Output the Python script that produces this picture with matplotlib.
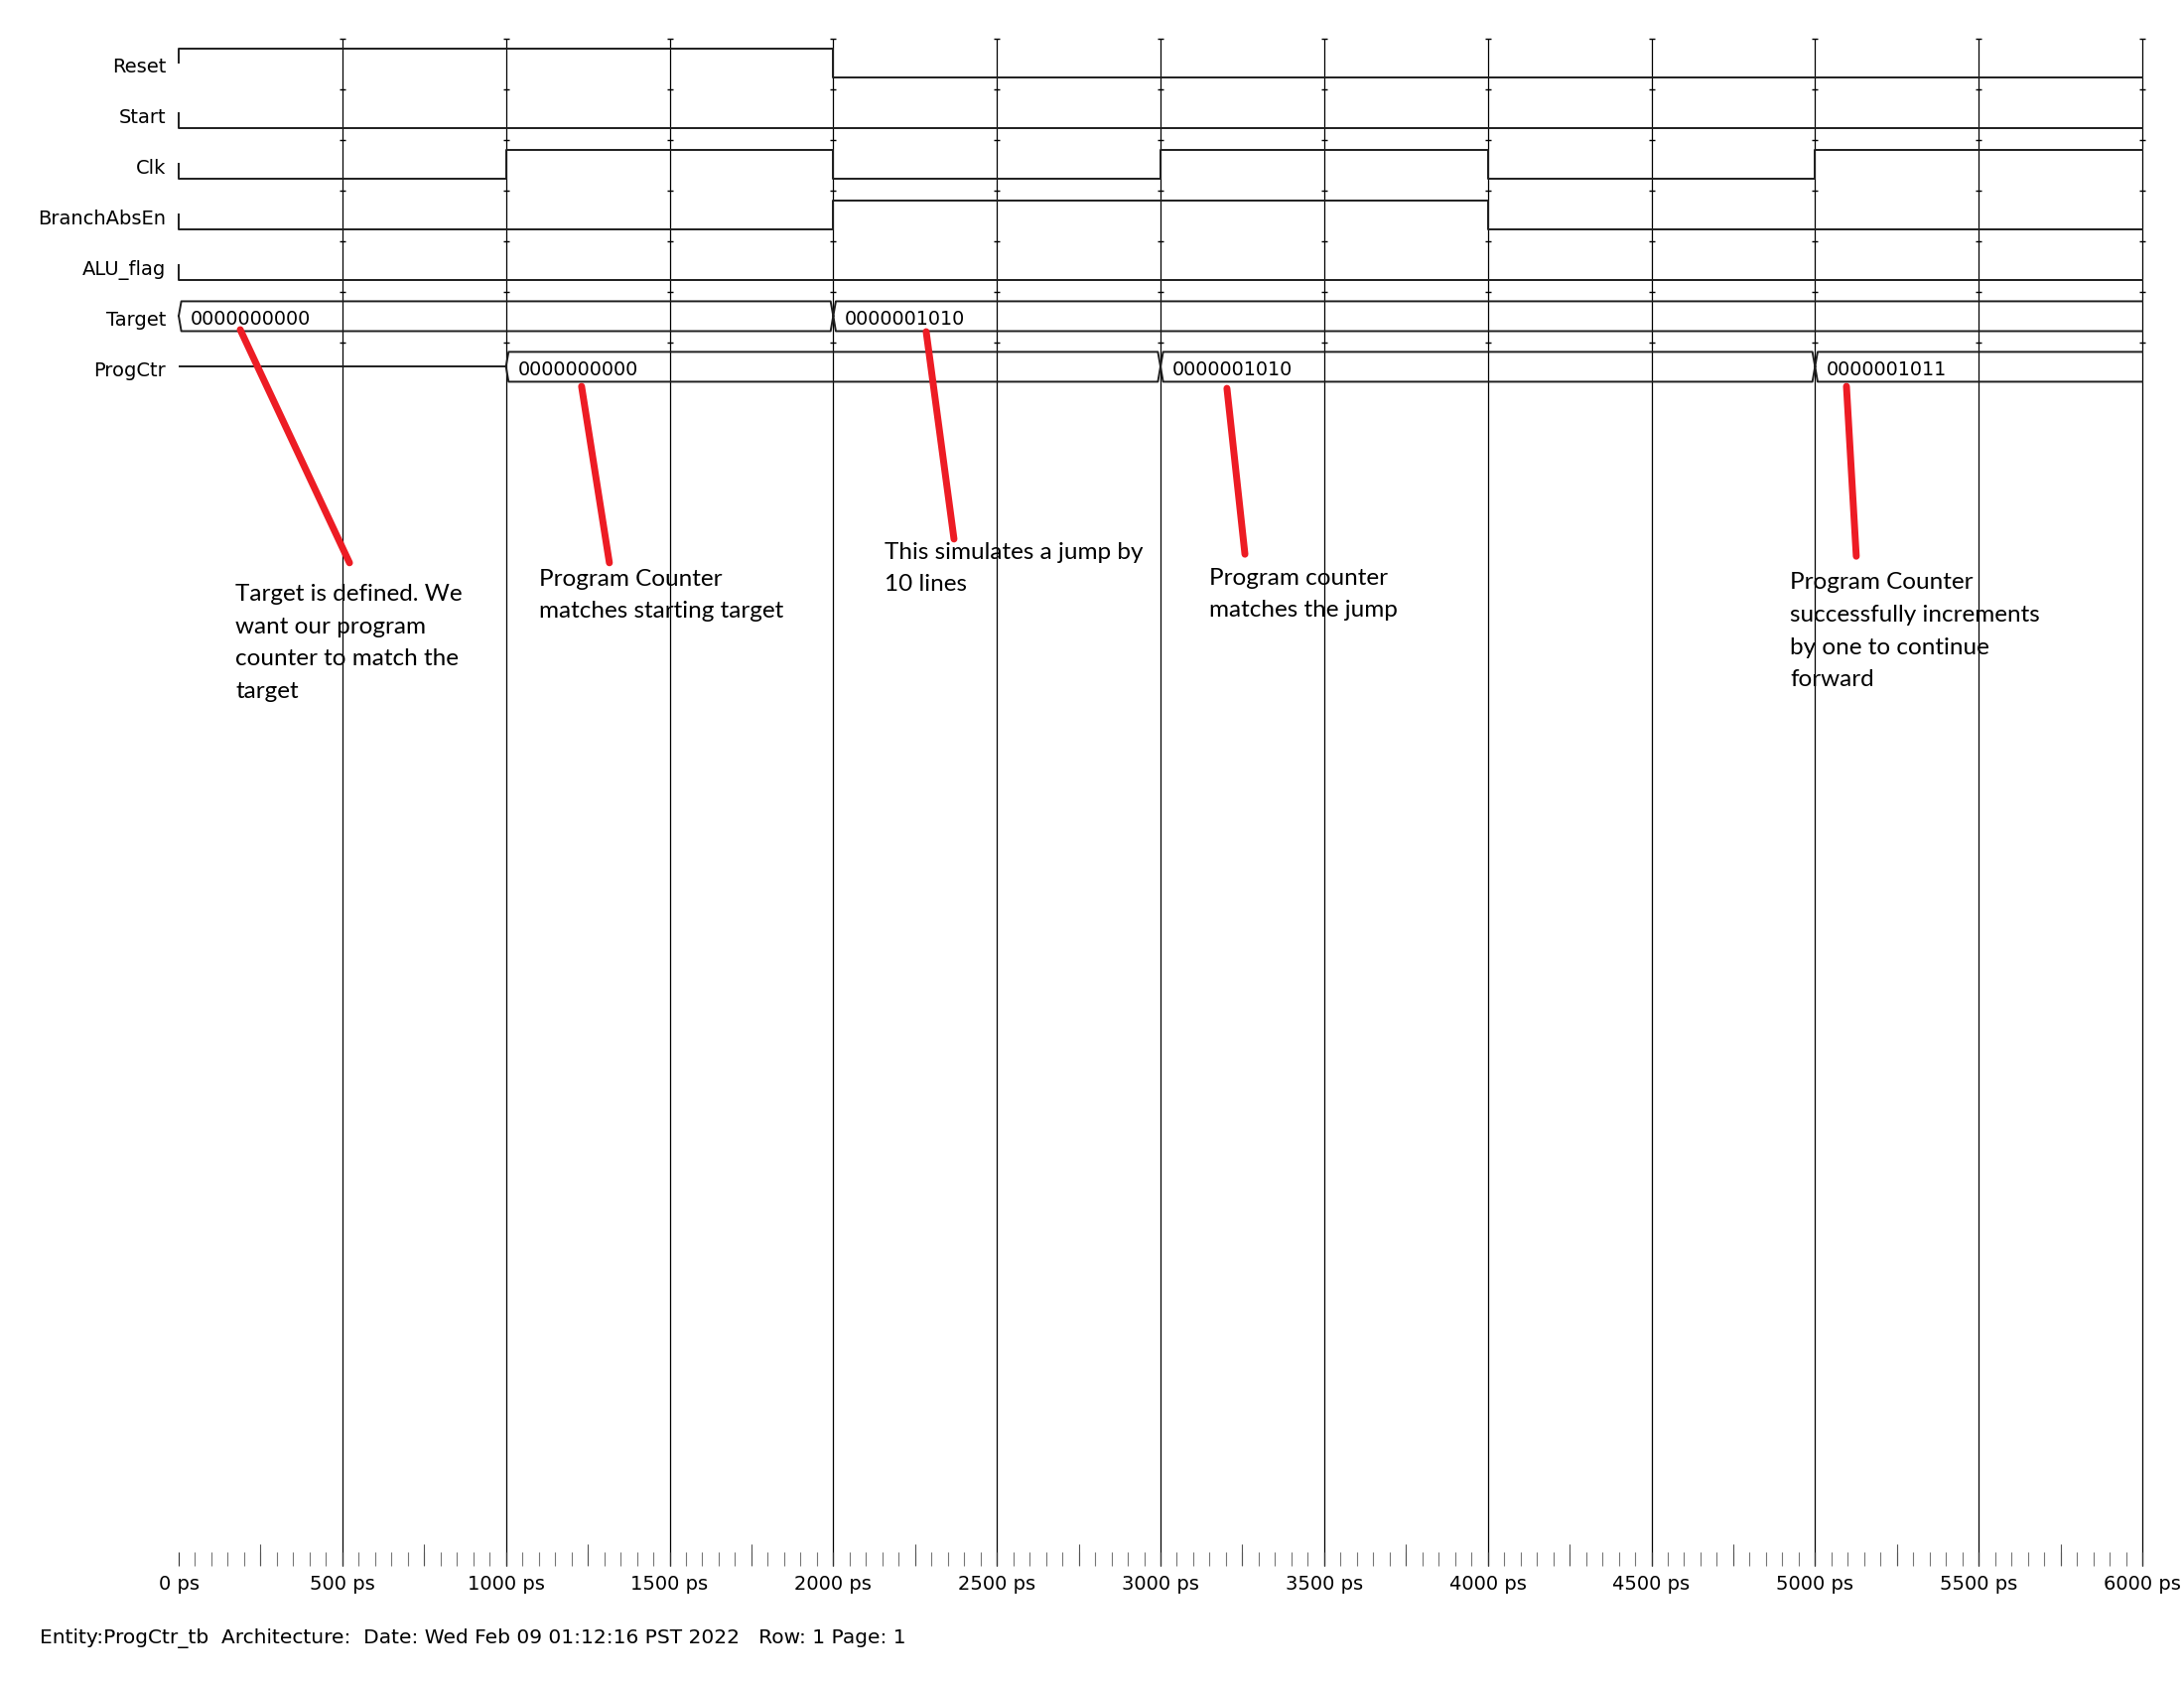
import numpy as np
import matplotlib.pyplot as plt

plt.rcParams['font.family'] = ['DejaVu Sans']

# signal list (top to bottom)
signal_names = ['Reset', 'Start', 'Clk', 'BranchAbsEn', 'ALU_flag', 'Target', 'ProgCtr']

# single-bit signals: edge times (ps) and level held after each edge
reset_t = [0, 2000, 6000]
reset_v = [1, 0]
start_t = [0, 6000]
start_v = [0]
clk_t = [0, 1000, 2000, 3000, 4000, 5000, 6000]
clk_v = [0, 1, 0, 1, 0, 1]
branch_t = [0, 2000, 4000, 6000]
branch_v = [0, 1, 0]
alu_t = [0, 6000]
alu_v = [0]

# bus signals (None = undefined, drawn as a mid line)
target_t = [0, 2000, 6000]
target_v = ['0000000000', '0000001010']
progctr_t = [0, 1000, 3000, 5000, 6000]
progctr_v = [None, '0000000000', '0000001010', '0000001011']

# time axis
t_end = 6000
major_ticks = np.arange(0, 6001, 500)
mid_ticks = np.arange(250, 6000, 500)
minor_ticks = np.arange(0, 6001, 50)

# notes: text, first-line baseline (ps, row), red pointer line (ps, row)
notes = [
    'Target is defined. We\nwant our program\ncounter to match the\ntarget',
    'Program Counter\nmatches starting target',
    'This simulates a jump by\n10 lines',
    'Program counter\nmatches the jump',
    'Program Counter\nsuccessfully increments\nby one to continue\nforward',
]
note_x = [173, 1101, 2157, 3149, 4923]
note_y = [11.09, 10.80, 10.27, 10.78, 10.86]
ptr_x0 = [188, 1231, 2284, 3203, 5096]
ptr_y0 = [5.75, 6.87, 5.79, 6.91, 6.87]
ptr_x1 = [522, 1316, 2369, 3258, 5126]
ptr_y1 = [10.36, 10.36, 9.89, 10.19, 10.23]

footer = 'Entity:ProgCtr_tb  Architecture:  Date: Wed Feb 09 01:12:16 PST 2022   Row: 1 Page: 1'

# ---- layout (pixels of a 2200x1700 canvas)
W, H = 2200, 1700
row_px = 50.95
top_px, base_px = 39, 1577
x0_px, x1_px = 180, 2158
n_rows = (base_px - top_px) / row_px
note_line_px = 33

HI, LO, MID = 0.19, 0.76, 0.48
wave_col = '#1e1e1e'
wave_lw = 1.4

fig = plt.figure(figsize=(W / 100, H / 100), dpi=100)
ax = fig.add_axes([x0_px / W, 1 - base_px / H, (x1_px - x0_px) / W, (base_px - top_px) / H])
ax.set_xlim(0, t_end)
ax.set_ylim(n_rows, 0)
for s in ax.spines.values():
    s.set_visible(False)
ax.set_yticks([])

# grid lines every 500 ps with little marks at row borders
ax.vlines(major_ticks[1:], 0, n_rows, color='black', lw=0.9, zorder=1, clip_on=False)
gx, gy = np.meshgrid(major_ticks[1:], np.arange(0, 7))
ax.plot(gx.ravel(), gy.ravel(), ls='none', marker='_', ms=5, mew=1.0, color='black',
        zorder=1, clip_on=False)


def draw_bit(row, ts, vs):
    xs, ys = [ts[0]], [row + MID]
    for i, v in enumerate(vs):
        lev = row + (HI if v else LO)
        xs += [ts[i], ts[i + 1]]
        ys += [lev, lev]
    ax.plot(xs, ys, color=wave_col, lw=wave_lw, zorder=3, clip_on=False)


def draw_bus(row, ts, vs, d=8):
    top, bot, mid = row + HI, row + LO + 0.02, row + MID
    for i, v in enumerate(vs):
        a, b = ts[i], ts[i + 1]
        if v is None:
            ax.plot([a, b], [mid, mid], color=wave_col, lw=wave_lw, zorder=3)
            continue
        closing = b < t_end
        bb = b - d if closing else b
        for y in (top, bot):
            xs = [a, a + d, bb]
            ys = [mid, y, y]
            if closing:
                xs.append(b)
                ys.append(mid)
            ax.plot(xs, ys, color=wave_col, lw=wave_lw, zorder=3, clip_on=False)
        ax.text(a + 36, row + 0.655, v, fontsize=13.8, va='baseline', ha='left', zorder=4)


bits = [(reset_t, reset_v), (start_t, start_v), (clk_t, clk_v), (branch_t, branch_v), (alu_t, alu_v)]
for r, (ts, vs) in enumerate(bits):
    draw_bit(r, ts, vs)
draw_bus(5, target_t, target_v)
draw_bus(6, progctr_t, progctr_v)

for r, name in enumerate(signal_names):
    ax.text(-39, r + 0.667, name, fontsize=14, ha='right', va='baseline')

# time axis ticks
ax.set_xticks(major_ticks)
ax.set_xticklabels([f'{t} ps' for t in major_ticks])
ax.set_xticks(minor_ticks, minor=True)
ax.tick_params(axis='x', which='major', direction='in', length=10, width=0.8,
               color='#333333', labelsize=14, pad=6.5)
ax.tick_params(axis='x', which='minor', direction='in', length=10, width=0.8, color='#777777')
ax.vlines(mid_ticks, 0, 22 / (base_px - top_px), transform=ax.get_xaxis_transform(),
          color='#555555', lw=0.8)

# notes with red pointers (multi-line baseline anchors on the last line)
for txt, x, y in zip(notes, note_x, note_y):
    n_lines = txt.count('\n')
    ax.text(x, y + n_lines * note_line_px / row_px, txt, fontsize=17.5,
            family=['Lato', 'DejaVu Sans'], va='baseline', ha='left',
            linespacing=1.69, zorder=5)
for xa, ya, xb, yb in zip(ptr_x0, ptr_y0, ptr_x1, ptr_y1):
    ax.plot([xa, xb], [ya, yb], color='#ED1C24', lw=5, solid_capstyle='round', zorder=6)

fig.text(40 / W, 1 - 1655 / H, footer, fontsize=14.5, va='baseline', ha='left')

fig.savefig('out.png', dpi=100, facecolor='white')
